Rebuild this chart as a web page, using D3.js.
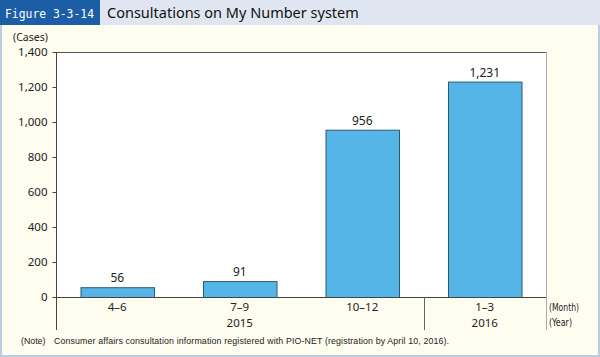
<!DOCTYPE html>
<html><head><meta charset="utf-8">
<script src="https://cdn.jsdelivr.net/npm/d3@7"></script>
<style>
html,body{margin:0;padding:0;background:#fff;}
svg{display:block;font-family:"Noto Sans","Open Sans",sans-serif;}
</style></head>
<body>
<svg id="c" width="600" height="357"></svg>
<script>
const categories = ["4–6", "7–9", "10–12", "1–3"];
const values = [56, 91, 956, 1231];
const valueLabels = ["56", "91", "956", "1,231"];
const yearLabels = [{year: "2015", from: 0, to: 2}, {year: "2016", from: 3, to: 3}];
const yTicks = [0, 200, 400, 600, 800, 1000, 1200, 1400];

(function () {
const svg = d3.select("#c");
// body background
svg.append("rect").attr("x", 1).attr("y", 24).attr("width", 598).attr("height", 332)
  .attr("fill", "#fffdf0").attr("stroke", "#b7cfe0").attr("stroke-width", 2);
// header
svg.append("rect").attr("x", 0).attr("y", 0).attr("width", 600).attr("height", 25).attr("fill", "#dfe6f2");
svg.append("rect").attr("x", 0).attr("y", 0).attr("width", 100).attr("height", 25).attr("fill", "#1b5ea6");
svg.append("text").attr("x", 5).attr("y", 18).attr("fill", "#fff")
  .attr("font-family", "'DejaVu Sans Mono', monospace").attr("font-size", 13)
  .attr("textLength", 89).attr("lengthAdjust", "spacingAndGlyphs")
  .text("Figure 3-3-14");
svg.append("text").attr("x", 107).attr("y", 18).attr("fill", "#111").attr("font-size", 14.5)
  .text("Consultations on My Number system");

const pL = 56, pR = 546, pT = 52, pB = 297;
const x = d3.scaleBand().domain(categories).range([pL, pR]).paddingInner(0.4).paddingOuter(0.2);
const y = d3.scaleLinear().domain([0, 1400]).range([pB, pT]);

// plot area
svg.append("rect").attr("x", pL).attr("y", pT).attr("width", pR - pL).attr("height", pB - pT).attr("fill", "#fff");
svg.append("line").attr("x1", pL).attr("x2", pR).attr("y1", pT + 0.5).attr("y2", pT + 0.5).attr("stroke", "#555");
svg.append("line").attr("x1", pR + 0.5).attr("x2", pR + 0.5).attr("y1", pT).attr("y2", 330).attr("stroke", "#aaa");

// bars
svg.selectAll("rect.bar").data(values).enter().append("rect").attr("class", "bar")
  .attr("x", (d, i) => x(categories[i]) + 0.5).attr("width", x.bandwidth())
  .attr("y", d => y(d) + 0.5).attr("height", d => pB - y(d))
  .attr("fill", "#55b5e7").attr("stroke", "#2d5b72").attr("stroke-width", 1);
svg.selectAll("text.val").data(values).enter().append("text").attr("class", "val")
  .attr("x", (d, i) => x(categories[i]) + x.bandwidth() / 2).attr("y", d => y(d) - 5)
  .attr("text-anchor", "middle").attr("font-size", 12).attr("fill", "#222")
  .text((d, i) => valueLabels[i]);

// y axis
const ya = svg.append("g").attr("transform", `translate(${pL + 0.5},0)`)
  .call(d3.axisLeft(y).tickValues(yTicks).tickSize(4).tickSizeOuter(0).tickPadding(5).tickFormat(d3.format(",")));
ya.select(".domain").remove();
ya.selectAll("line").attr("stroke", "#444");
ya.selectAll("text").attr("font-size", 11.5).attr("fill", "#222").attr("font-family", "'Noto Sans',sans-serif");
svg.append("line").attr("x1", pL + 0.5).attr("x2", pL + 0.5).attr("y1", pT).attr("y2", 330).attr("stroke", "#444");
// baseline
svg.append("line").attr("x1", pL).attr("x2", pR).attr("y1", pB + 0.5).attr("y2", pB + 0.5).attr("stroke", "#444");
// year separator
const sepX = Math.round(x(categories[3]) - x.step() * x.paddingInner() / 2) + 0.5;
svg.append("line").attr("x1", sepX).attr("x2", sepX).attr("y1", pB).attr("y2", 330).attr("stroke", "#666");

svg.append("text").attr("x", 13).attr("y", 40.5).attr("font-size", 10.5).attr("fill", "#222").text("(Cases)");

// category labels
svg.selectAll("text.cat").data(categories).enter().append("text").attr("class", "cat")
  .attr("x", d => x(d) + x.bandwidth() / 2).attr("y", 311).attr("text-anchor", "middle")
  .attr("font-size", 11.5).attr("fill", "#222").text(d => d);
svg.selectAll("text.yr").data(yearLabels).enter().append("text").attr("class", "yr")
  .attr("x", d => (x(categories[d.from]) + x(categories[d.to]) + x.bandwidth()) / 2).attr("y", 327)
  .attr("text-anchor", "middle").attr("font-size", 11.5).attr("fill", "#222").text(d => d.year);

svg.append("text").attr("x", 549).attr("y", 311).attr("font-size", 11).attr("fill", "#222")
  .attr("font-family", "'Liberation Sans Narrow','DejaVu Sans Condensed',sans-serif")
  .attr("textLength", 30).attr("lengthAdjust", "spacingAndGlyphs").text("(Month)");
svg.append("text").attr("x", 549).attr("y", 326).attr("font-size", 11).attr("fill", "#222")
  .attr("font-family", "'Liberation Sans Narrow','DejaVu Sans Condensed',sans-serif")
  .attr("textLength", 23).attr("lengthAdjust", "spacingAndGlyphs").text("(Year)");

svg.append("text").attr("x", 21).attr("y", 344).attr("font-size", 8.8).attr("fill", "#222")
  .attr("font-family", "'Liberation Sans',Arial,sans-serif").text("(Note)");
svg.append("text").attr("x", 54).attr("y", 344).attr("font-size", 8.8).attr("fill", "#222")
  .attr("font-family", "'Liberation Sans',Arial,sans-serif").attr("textLength", 395)
  .text("Consumer affairs consultation information registered with PIO-NET (registration by April 10, 2016).");
})();
</script>
</body></html>
